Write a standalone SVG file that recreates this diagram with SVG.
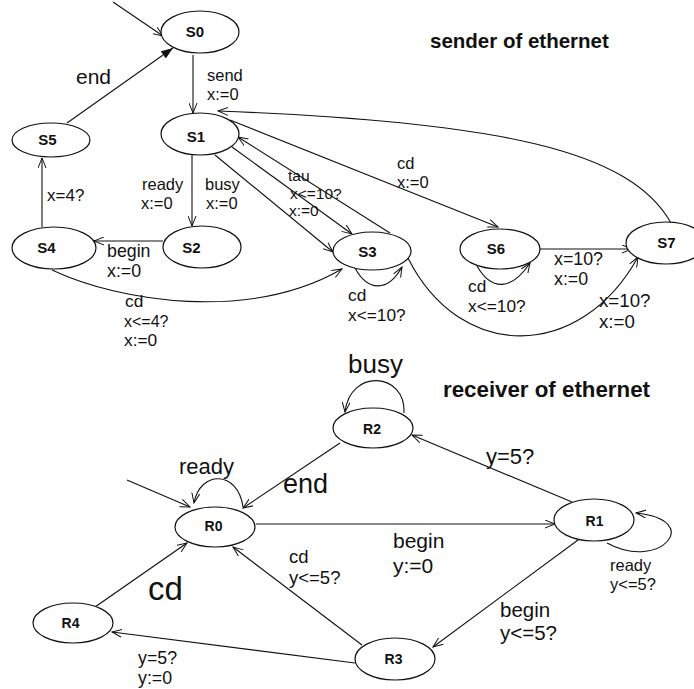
<svg xmlns="http://www.w3.org/2000/svg" width="694" height="689" viewBox="0 0 694 689">
<defs>
<marker id="a" markerWidth="11" markerHeight="9" refX="10" refY="4.5" orient="auto" markerUnits="userSpaceOnUse"><path d="M0,0.5 L10,4.5 L0,8.5" fill="none" stroke="#111" stroke-width="1"/></marker>
<marker id="f" markerWidth="13" markerHeight="10" refX="12" refY="5" orient="auto" markerUnits="userSpaceOnUse"><path d="M0,0.5 L12,5 L0,9.5 z" fill="#111"/></marker>
<style>
.n ellipse{fill:#fff;stroke:#111;stroke-width:1.2}
.n text{font-family:"Liberation Sans",Arial,sans-serif;font-weight:bold;font-size:15px;fill:#111;text-anchor:middle}
.r text{font-size:14px}
.e path{fill:none;stroke:#111;stroke-width:1.1;marker-end:url(#a)}
.e path.fl{marker-end:url(#f)}
.l text{font-family:"Liberation Sans",Arial,sans-serif;fill:#111}
.t{font-family:"Liberation Sans",Arial,sans-serif;font-weight:bold;fill:#111}
</style>
</defs>
<rect width="694" height="689" fill="#fff"/>
<text class="t" x="430" y="48" style="font-size:20.5px">sender of ethernet</text>
<text class="t" x="443" y="397" style="font-size:22.3px">receiver of ethernet</text>
<g id="connectors" class="e">
<path d="M113,2 L163,36"/>
<path class="fl" d="M67,123 L173,48"/>
<path d="M193,55 L193,113"/>
<path d="M192,155 L192,226"/>
<path d="M42,227 L42,158"/>
<path d="M163,241 L94,241"/>
<path d="M52,270 C120,302 250,322 342,269"/>
<path d="M215,155 L333,252"/>
<path d="M232,147 L352,234"/>
<path d="M390,233 L238,137"/>
<path d="M230,120 L498,227"/>
<path d="M671,223 C630,150 500,122 218,111"/>
<path d="M408,258 C460,362 580,362 638,257"/>
<path d="M540,249 L632,249"/>
<path d="M477,266 C492,292 512,290 530,263"/>
<path d="M355,268 C368,292 388,292 402,267"/>
<path d="M127,480 L190,507"/>
<path d="M243,507 C238,470 200,470 194,503"/>
<path d="M404,413 C406,372 350,368 345,412"/>
<path d="M340,443 L243,508"/>
<path d="M572,502 L412,435"/>
<path d="M256,524 L555,524"/>
<path d="M607,543 C660,572 705,520 636,513"/>
<path d="M578,540 L433,647"/>
<path d="M362,645 L233,547"/>
<path d="M95,607 L187,543"/>
<path d="M355,663 L112,632"/>
</g>
<g id="S0" class="n"><ellipse cx="200" cy="32" rx="39" ry="21"/><text x="195" y="37">S0</text></g>
<g id="S1" class="n"><ellipse cx="200" cy="134" rx="39" ry="21"/><text x="196" y="142">S1</text></g>
<g id="S5" class="n"><ellipse cx="51" cy="140" rx="39" ry="17"/><text x="47.5" y="145">S5</text></g>
<g id="S4" class="n"><ellipse cx="54" cy="248" rx="42" ry="21"/><text x="46.5" y="253">S4</text></g>
<g id="S2" class="n"><ellipse cx="202" cy="247" rx="39" ry="21"/><text x="191.5" y="253">S2</text></g>
<g id="S3" class="n"><ellipse cx="372" cy="251" rx="39" ry="19"/><text x="367.5" y="257">S3</text></g>
<g id="S6" class="n"><ellipse cx="500" cy="249" rx="40" ry="20"/><text x="496" y="254">S6</text></g>
<g id="S7" class="n"><ellipse cx="666" cy="243" rx="40" ry="21"/><text x="666.5" y="248">S7</text></g>
<g id="R2" class="n r"><ellipse cx="373" cy="428" rx="40" ry="20"/><text x="372" y="434">R2</text></g>
<g id="R0" class="n r"><ellipse cx="215" cy="527" rx="40" ry="20"/><text x="213.5" y="531">R0</text></g>
<g id="R1" class="n r"><ellipse cx="594" cy="520" rx="40" ry="21"/><text x="594.5" y="526">R1</text></g>
<g id="R3" class="n r"><ellipse cx="395" cy="659" rx="40" ry="21"/><text x="393.5" y="664">R3</text></g>
<g id="R4" class="n r"><ellipse cx="73" cy="623" rx="40" ry="20"/><text x="70.5" y="628">R4</text></g>
<g id="labels" class="l">
<text x="207" y="81" style="font-size:16.5px">send<tspan x="207" dy="18.5">x:=0</tspan></text>
<text x="76" y="84" style="font-size:21px">end</text>
<text x="142" y="190" style="font-size:16.5px">ready<tspan x="141" dy="18.5">x:=0</tspan></text>
<text x="205" y="190" style="font-size:16.5px">busy<tspan x="206" dy="18.5">x:=0</tspan></text>
<text x="288" y="181" style="font-size:15.5px">tau<tspan x="290" dy="17.5">x&lt;=10?</tspan><tspan x="289" dy="17.5">x:=0</tspan></text>
<text x="397" y="169" style="font-size:16.5px">cd<tspan x="397" dy="18.5">x:=0</tspan></text>
<text x="47" y="201" style="font-size:17px">x=4?</text>
<text x="107" y="257" style="font-size:17.8px">begin<tspan x="107" dy="20">x:=0</tspan></text>
<text x="125" y="307" style="font-size:17.3px">cd<tspan x="124" dy="19.5" style="font-size:16px">x&lt;=4?</tspan><tspan x="124" dy="19.5">x:=0</tspan></text>
<text x="348" y="301" style="font-size:17.3px">cd<tspan x="348" dy="19.5">x&lt;=10?</tspan></text>
<text x="468" y="292" style="font-size:17.3px">cd<tspan x="468" dy="19.5">x&lt;=10?</tspan></text>
<text x="554" y="265" style="font-size:17.8px">x=10?<tspan x="554" dy="20">x:=0</tspan></text>
<text x="599" y="307" style="font-size:18.7px">x=10?<tspan x="599" dy="21">x:=0</tspan></text>
<text x="348" y="373" style="font-size:26px">busy</text>
<text x="179" y="474" style="font-size:22px">ready</text>
<text x="283" y="493" style="font-size:27px">end</text>
<text x="486" y="464" style="font-size:22px">y=5?</text>
<text x="393" y="548" style="font-size:21px">begin<tspan x="393" dy="25">y:=0</tspan></text>
<text x="610" y="571" style="font-size:16.5px">ready<tspan x="610" dy="18.5">y&lt;=5?</tspan></text>
<text x="500" y="617" style="font-size:20.5px">begin<tspan x="500" dy="23">y&lt;=5?</tspan></text>
<text x="289" y="563" style="font-size:18.5px">cd<tspan x="289" dy="20.7">y&lt;=5?</tspan></text>
<text x="148" y="600" style="font-size:33px">cd</text>
<text x="138" y="664" style="font-size:17.8px">y=5?<tspan x="138" dy="20">y:=0</tspan></text>
</g>
</svg>
